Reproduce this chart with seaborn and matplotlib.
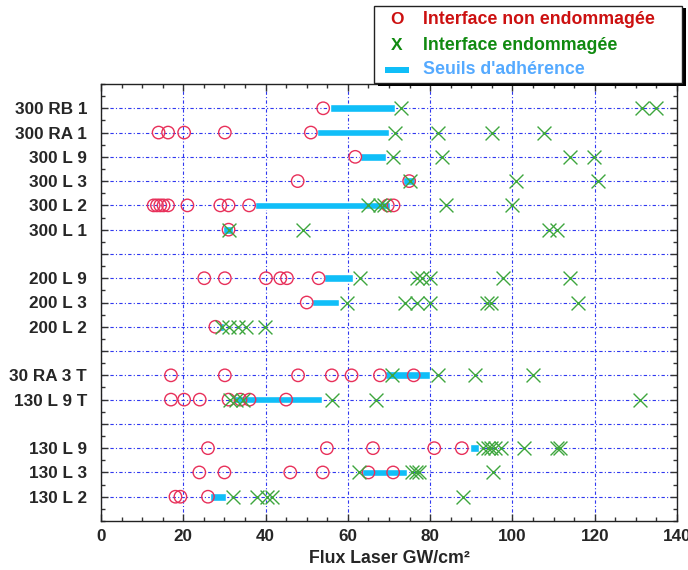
import matplotlib
matplotlib.use('Agg')
import matplotlib.pyplot as plt
import seaborn as sns
import pandas as pd
from matplotlib.patches import Rectangle
from matplotlib.ticker import MultipleLocator

sns.set_style('ticks')
plt.rcParams['font.family'] = ['Liberation Sans', 'DejaVu Sans']
plt.rcParams['font.weight'] = 'bold'

row_order = ['300 RB 1', '300 RA 1', '300 L 9', '300 L 3', '300 L 2', '300 L 1', None,
             '200 L 9', '200 L 3', '200 L 2', None, '30 RA 3 T', '130 L 9 T', None,
             '130 L 9', '130 L 3', '130 L 2']

non_damaged = {
    '300 RB 1': [54],
    '300 RA 1': [14, 16.3, 20.2, 30.1, 51],
    '300 L 9': [61.8],
    '300 L 3': [47.8, 74.9],
    '300 L 2': [12.8, 13.6, 14.4, 15.2, 16.3, 21, 29, 31, 36, 69.7, 71.1],
    '300 L 1': [31],
    '200 L 9': [25.1, 30.1, 40.1, 43.6, 45.2, 52.9],
    '200 L 3': [50],
    '200 L 2': [27.8],
    '30 RA 3 T': [17, 30.1, 47.9, 56.1, 60.9, 67.8, 76],
    '130 L 9 T': [17, 20.2, 24, 31, 33.9, 36.1, 45],
    '130 L 9': [26, 54.9, 66.1, 81, 87.7],
    '130 L 3': [23.9, 30, 46, 53.9, 65, 71],
    '130 L 2': [18.1, 19.3, 26],
}
damaged = {
    '300 RB 1': [73, 131.6, 134.8],
    '300 RA 1': [71.5, 81.8, 95, 107.7],
    '300 L 9': [71, 82.9, 113.9, 119.9],
    '300 L 3': [75, 100.9, 120.9],
    '300 L 2': [65, 67.9, 68.7, 83.9, 100],
    '300 L 1': [31, 49, 108.9, 110.8],
    '200 L 9': [63, 76.9, 78, 80, 97.7, 113.9],
    '200 L 3': [59.8, 74, 76.9, 80, 93.8, 94.8, 115.9],
    '200 L 2': [29.5, 31, 33.2, 35.3, 39.9],
    '30 RA 3 T': [70.7, 81.9, 91, 105],
    '130 L 9 T': [31.4, 32.7, 34.5, 56.1, 66.9, 130.9],
    '130 L 9': [92.8, 94, 94.8, 95.8, 97.2, 102.9, 110.8, 111.6],
    '130 L 3': [62.6, 75.6, 76.6, 77.2, 95.2],
    '130 L 2': [32.1, 37.9, 40.3, 41.5, 88],
}
thr_start = {
    '300 RB 1': 55.7, '300 RA 1': 52.6, '300 L 9': 63.0, '300 L 3': 73.5,
    '300 L 2': 37.5, '300 L 1': 29.6, '200 L 9': 54.3, '200 L 3': 51.4,
    '200 L 2': 28.7, '30 RA 3 T': 69.1, '130 L 9 T': 32.2, '130 L 9': 89.7,
    '130 L 3': 63.4, '130 L 2': 26.6,
}
thr_end = {
    '300 RB 1': 71.4, '300 RA 1': 69.9, '300 L 9': 69.3, '300 L 3': 76.4,
    '300 L 2': 70.3, '300 L 1': 32.2, '200 L 9': 61.2, '200 L 3': 57.8,
    '200 L 2': 30.0, '30 RA 3 T': 80.0, '130 L 9 T': 53.7, '130 L 9': 91.9,
    '130 L 3': 74.4, '130 L 2': 30.5,
}

legend_labels = ['Interface non endommagée', 'Interface endommagée', "Seuils d'adhérence"]
x_label = 'Flux Laser GW/cm²'

n = len(row_order)
ypos = {lab: n - i for i, lab in enumerate(row_order) if lab is not None}

df_o = pd.DataFrame([(lab, v, ypos[lab]) for lab, vals in non_damaged.items() for v in vals],
                    columns=['sample', 'flux', 'y'])
df_x = pd.DataFrame([(lab, v, ypos[lab]) for lab, vals in damaged.items() for v in vals],
                    columns=['sample', 'flux', 'y'])
df_t = pd.DataFrame([(lab, thr_start[lab], thr_end[lab], ypos[lab]) for lab in thr_start],
                    columns=['sample', 'start', 'end', 'y'])

RED = '#E8305A'
GREEN = '#3EA63E'
BLUE = '#10BEF8'

fig = plt.figure(figsize=(6.88, 5.70), dpi=100)
ax = fig.add_axes([101 / 688, 49 / 570, 576 / 688, 437 / 570])

ax.barh(df_t['y'], df_t['end'] - df_t['start'], left=df_t['start'], height=0.32,
        color=BLUE, zorder=3)
sns.scatterplot(data=df_o, x='flux', y='y', marker='o', s=80, facecolor='none',
                edgecolor=RED, linewidth=1.0, ax=ax, zorder=4, legend=False)
sns.scatterplot(data=df_x, x='flux', y='y', marker='x', s=100, color=GREEN,
                linewidth=1.0, ax=ax, zorder=5, legend=False)

FS = 12.3
ax.set_xlim(0, 140)
ax.set_ylim(0, n + 1)
ax.set_xticks(range(0, 141, 20))
ax.xaxis.set_minor_locator(MultipleLocator(5))
ax.set_yticks(range(1, n + 1))
ax.set_yticklabels([row_order[n - k] or '' for k in range(1, n + 1)])
ax.yaxis.set_minor_locator(MultipleLocator(0.5))
ax.tick_params(which='both', direction='in', top=True, right=True, width=1,
               color='#333333')
ax.tick_params(which='major', length=5)
ax.tick_params(which='minor', length=3)
ax.tick_params(axis='y', which='major', pad=10, labelsize=FS)
ax.tick_params(axis='x', which='major', pad=6, labelsize=FS)
for lab in ax.get_xticklabels() + ax.get_yticklabels():
    lab.set_fontweight('bold')
ax.set_xlabel(x_label, fontsize=12.8, fontweight='bold', labelpad=4)
ax.set_ylabel('')
ax.grid(True, which='major', color='#3038F0', linestyle=(0, (3, 2, 1, 2)), linewidth=0.8)
ax.set_axisbelow(True)
for sp in ax.spines.values():
    sp.set_color('#222222')
    sp.set_linewidth(1.0)

# legend box with shadow (figure pixel coordinates)
W, H = 688, 570
def fx(px):
    return px / W
def fy(py):
    return 1 - py / H

fig.patches.append(Rectangle((fx(378), fy(86)), fx(308), 78 / H, transform=fig.transFigure,
                             facecolor='black', edgecolor='none', zorder=10))
fig.patches.append(Rectangle((fx(374), fy(83)), fx(308), 77 / H, transform=fig.transFigure,
                             facecolor='white', edgecolor='#222222', linewidth=1, zorder=11))
fig.text(fx(397), fy(20), 'O', color='#CC1010', fontsize=12.5, fontweight='bold',
         ha='center', va='center', zorder=12)
fig.text(fx(423), fy(20), legend_labels[0], color='#CC1010', fontsize=12.8,
         fontweight='bold', ha='left', va='center', zorder=12)
fig.text(fx(397), fy(45), 'X', color='#108A10', fontsize=12.5, fontweight='bold',
         ha='center', va='center', zorder=12)
fig.text(fx(423), fy(45), legend_labels[1], color='#108A10', fontsize=12.8,
         fontweight='bold', ha='left', va='center', zorder=12)
fig.patches.append(Rectangle((fx(385), fy(73)), fx(24), 6 / H, transform=fig.transFigure,
                             facecolor=BLUE, edgecolor='none', zorder=12))
fig.text(fx(423), fy(70), legend_labels[2], color='#55AAFF', fontsize=12.8,
         fontweight='bold', ha='left', va='center', zorder=12)

fig.savefig('out.png', dpi=100)
